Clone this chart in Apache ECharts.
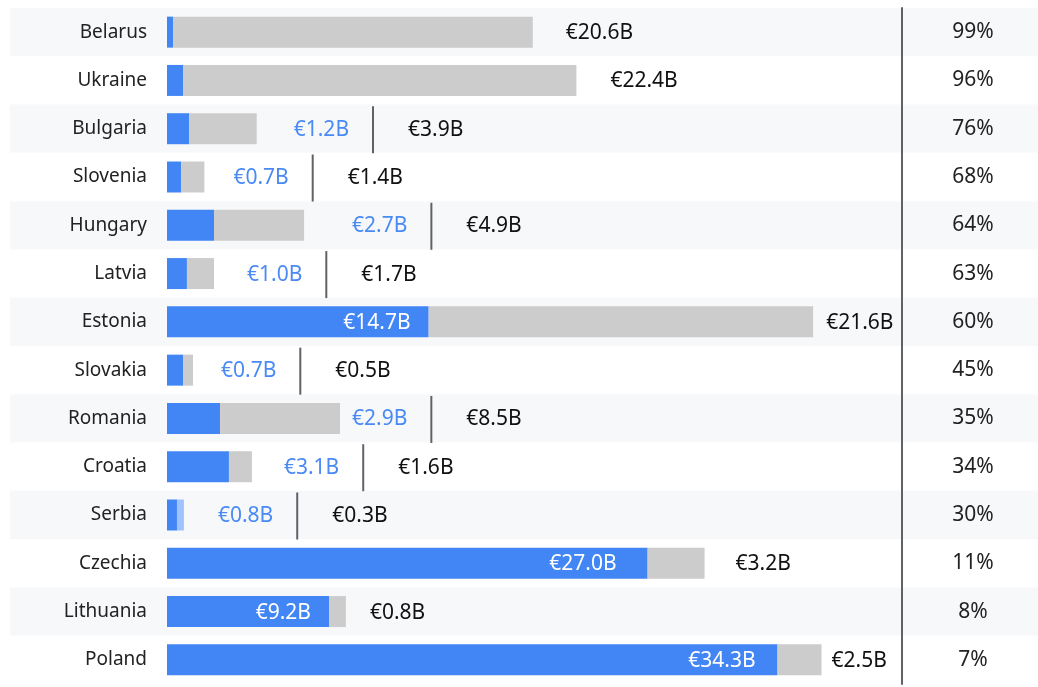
<!DOCTYPE html>
<html>
<head>
<meta charset="utf-8">
<script src="https://cdn.jsdelivr.net/npm/echarts@6/dist/echarts.min.js"></script>
<style>
html,body{margin:0;padding:0;background:#fff;}
#chart{width:1038px;height:687px;}
</style>
</head>
<body>
<div id="chart"></div>
<script>
// ---- data ----
var countries = ['Belarus','Ukraine','Bulgaria','Slovenia','Hungary','Latvia','Estonia','Slovakia','Romania','Croatia','Serbia','Czechia','Lithuania','Poland'];
// bar lengths (€B) as drawn
var blueBar = [0.35, 0.9, 1.24, 0.8, 2.64, 1.12, 14.7, 0.9, 2.98, 3.48, 0.56, 27.0, 9.1, 34.3];
var grayBar = [20.2, 22.1, 3.8, 1.3, 5.06, 1.52, 21.6, 0.56, 6.74, 1.29, 0.39, 3.2, 0.95, 2.47];
// label values (€B)
var blueLabel = [null, null, 1.2, 0.7, 2.7, 1.0, 14.7, 0.7, 2.9, 3.1, 0.8, 27.0, 9.2, 34.3];
var grayLabel = [20.6, 22.4, 3.9, 1.4, 4.9, 1.7, 21.6, 0.5, 8.5, 1.6, 0.3, 3.2, 0.8, 2.5];
var pctLabel = [99, 96, 76, 68, 64, 63, 60, 45, 35, 34, 30, 11, 8, 7];

// ---- styles ----
var FONT = "'Source Sans Pro','Noto Sans',sans-serif";
var BLUE = '#4285f4', GRAY = '#cccccc', LIGHTBLUE = '#a0c3ff';
var outerGap = [33, 34, 37, 29, 48, 33, 13, 28, 12, 32, 34, 31, 24, 10];
var innerGap = [5, 5, 5, 5, 5, 5, 18, 5, 5, 5, 5, 31, 18, 22];
var lightSecond = ['Serbia'];

function mode(i) {
  if (blueLabel[i] === null) return 'none';
  if (blueBar[i] >= 5) return 'inside';
  return 'split';
}
function eur(v) { return '\u20ac' + v.toFixed(1) + 'B'; }

var grid = {top: 8, bottom: 3};
var chart = echarts.init(document.getElementById('chart'), null, {renderer: 'canvas'});

var blueData = blueBar.map(function (v, i) {
  var item = {value: v};
  if (mode(i) === 'inside') {
    item.label = {show: true, position: 'insideRight', distance: innerGap[i], color: '#ffffff',
      fontSize: 21, fontFamily: FONT, offset: [0, 1], formatter: function () { return eur(blueLabel[i]); }};
  }
  return item;
});
var grayData = grayBar.map(function (v, i) {
  var item = {value: v, label: {distance: outerGap[i]}};
  if (lightSecond.indexOf(countries[i]) >= 0) item.itemStyle = {color: LIGHTBLUE};
  return item;
});

chart.setOption({
  animation: false,
  textStyle: {fontFamily: FONT},
  grid: [
    {left: 10, right: 0, top: grid.top, bottom: grid.bottom},
    {left: 167, width: 712, top: grid.top, bottom: grid.bottom},
    {left: 902, right: 0, top: grid.top, bottom: grid.bottom}
  ],
  xAxis: [
    {gridIndex: 0, type: 'value', show: false, min: 0, max: 1},
    {gridIndex: 1, type: 'value', show: false, min: 0, max: 40},
    {gridIndex: 2, type: 'value', show: false, min: 0, max: 1}
  ],
  yAxis: [
    {gridIndex: 0, type: 'category', data: countries, inverse: true,
      axisLine: {show: false}, axisTick: {show: false}, axisLabel: {show: false},
      splitArea: {show: true, areaStyle: {color: ['#f7f8fa', '#ffffff']}}},
    {gridIndex: 1, type: 'category', data: countries, inverse: true,
      axisLine: {show: false}, axisTick: {show: false},
      axisLabel: {margin: 20, fontSize: 19, color: '#222', fontFamily: FONT}},
    {gridIndex: 2, type: 'category', data: countries, inverse: true,
      axisLine: {show: true, lineStyle: {color: '#5f6368', width: 2}}, axisTick: {show: false},
      axisLabel: {inside: true, align: 'center', margin: 71, fontSize: 21, color: '#222', fontFamily: FONT,
        formatter: function (v, idx) { return pctLabel[idx] + '%'; }}}
  ],
  series: [
    {type: 'bar', xAxisIndex: 1, yAxisIndex: 1, stack: 'a', barWidth: 31, data: blueData,
      itemStyle: {color: BLUE}, label: {show: false}},
    {type: 'bar', xAxisIndex: 1, yAxisIndex: 1, stack: 'a', barWidth: 31, data: grayData,
      itemStyle: {color: GRAY},
      label: {show: true, position: 'right', fontFamily: FONT, offset: [0, 1],
        formatter: function (p) {
          var i = p.dataIndex;
          if (mode(i) === 'split') {
            return '{b|' + eur(blueLabel[i]) + '}{g1|}{line|}{g2|}{k|' + eur(grayLabel[i]) + '}';
          }
          return '{k|' + eur(grayLabel[i]) + '}';
        },
        rich: {
          b: {color: '#4a8af4', fontSize: 21, fontFamily: FONT, verticalAlign: 'middle'},
          k: {color: '#111111', fontSize: 21, fontFamily: FONT, verticalAlign: 'middle'},
          g1: {width: 23, height: 10, verticalAlign: 'middle'},
          g2: {width: 34, height: 10, verticalAlign: 'middle'},
          line: {width: 2, height: 47, backgroundColor: '#5f6368', verticalAlign: 'middle'}
        }}}
  ]
});
</script>
</body>
</html>
